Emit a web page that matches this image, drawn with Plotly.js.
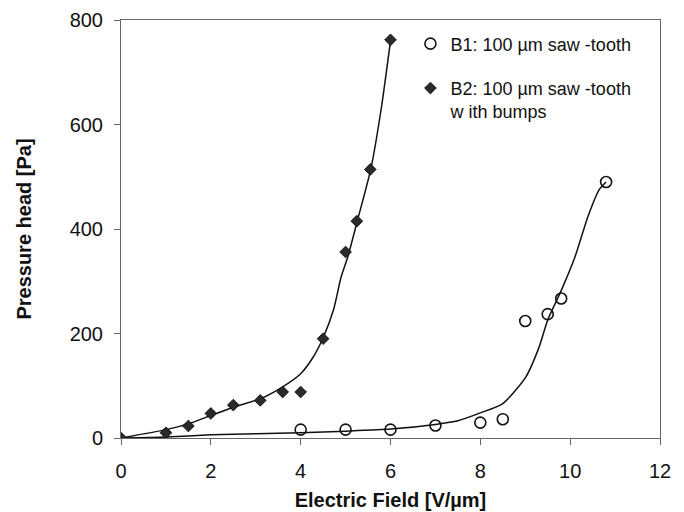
<!DOCTYPE html>
<html><head><meta charset="utf-8">
<script src="https://cdn.plot.ly/plotly-3.0.1.min.js"></script>
<style>body{margin:0;background:#fff}#c{width:684px;height:512px}</style>
</head><body><div id="c"></div>
<script>
// B1: 100 µm saw-tooth (open circles)
var b1X = [4, 5, 6, 7, 8, 8.5, 9, 9.5, 9.8, 10.8];
var b1Y = [16, 16, 16, 24, 29.5, 36, 224, 237, 267, 490];
// B1 fitted curve
var b1FitX = [0, 1, 2, 3, 4, 5, 6, 7, 7.5, 8, 8.5, 9, 9.3, 9.5, 9.8, 10.1, 10.4, 10.65, 10.8];
var b1FitY = [0, 2, 6, 8, 10, 13, 17, 26, 33, 48, 66, 115, 172, 226, 282, 345, 425, 476, 490];
// B2: 100 µm saw-tooth with bumps (diamonds)
var b2X = [0, 1, 1.5, 2, 2.5, 3.1, 3.6, 4, 4.5, 5, 5.25, 5.55, 6];
var b2Y = [0, 10, 23, 47, 63, 72, 88, 88, 190, 356, 415, 514, 762];
// B2 fitted curve
var b2FitX = [0, 1, 1.5, 2, 2.5, 3.1, 3.6, 4, 4.28, 4.5, 4.73, 4.9, 5.05, 5.26, 5.56, 5.8, 6];
var b2FitY = [0, 16, 27, 43, 59, 75, 98, 123, 155, 192, 245, 308, 347, 415, 514, 634, 760];
var xTicks = [0, 2, 4, 6, 8, 10, 12];
var yTicks = [0, 200, 400, 600, 800];

var FONT = 'Liberation Sans, Arial, sans-serif';
var traces = [
  {x: b1FitX, y: b1FitY, mode: 'lines', line: {color: '#111', width: 1.5, shape: 'spline', smoothing: 0.6}, showlegend: false, hoverinfo: 'skip'},
  {x: b2FitX, y: b2FitY, mode: 'lines', line: {color: '#111', width: 1.5, shape: 'spline', smoothing: 0.6}, showlegend: false, hoverinfo: 'skip'},
  {x: b1X, y: b1Y, mode: 'markers', name: 'B1: 100 µm saw -tooth', legendgroup: 'a',
   marker: {symbol: 'circle-open', size: 11, color: '#111', line: {width: 1.6, color: '#111'}}},
  {x: b2X, y: b2Y, mode: 'markers', name: 'B2: 100 µm saw -tooth<br>w ith bumps', legendgroup: 'b',
   marker: {symbol: 'diamond', size: 9, color: '#2a2a2a', line: {width: 0.8, color: '#000'}}}
];
var axCommon = {
  showgrid: false, zeroline: false, showline: true, mirror: true,
  linecolor: '#666', linewidth: 1, ticks: 'outside', ticklen: 6, tickcolor: '#666',
  tickfont: {family: FONT, size: 20, color: '#111'}
};
var layout = {
  width: 684, height: 512,
  margin: {l: 121, r: 24, t: 20, b: 74},
  paper_bgcolor: '#fff', plot_bgcolor: '#fff',
  xaxis: Object.assign({}, axCommon, {range: [0, 12], tickvals: xTicks, ticktext: xTicks.map(String),
    ticklabelstandoff: 9, automargin: false,
    title: {text: 'Electric Field [V/µm]', standoff: 11, font: {family: FONT, size: 20, color: '#111', weight: 'bold'}}}),
  yaxis: Object.assign({}, axCommon, {range: [0, 800], tickvals: yTicks, ticktext: yTicks.map(String),
    ticklabelstandoff: 7, automargin: false,
    title: {text: 'Pressure head [Pa]', standoff: 32, font: {family: FONT, size: 20, color: '#111', weight: 'bold'}}}),
  legend: {x: 0.537, y: 0.987, xanchor: 'left', yanchor: 'top', bgcolor: 'rgba(0,0,0,0)',
    font: {family: FONT, size: 18, color: '#111'}, valign: 'top',
    traceorder: 'grouped', tracegroupgap: 18},
  showlegend: true
};
Plotly.newPlot('c', traces, layout, {staticPlot: true});
</script></body></html>
